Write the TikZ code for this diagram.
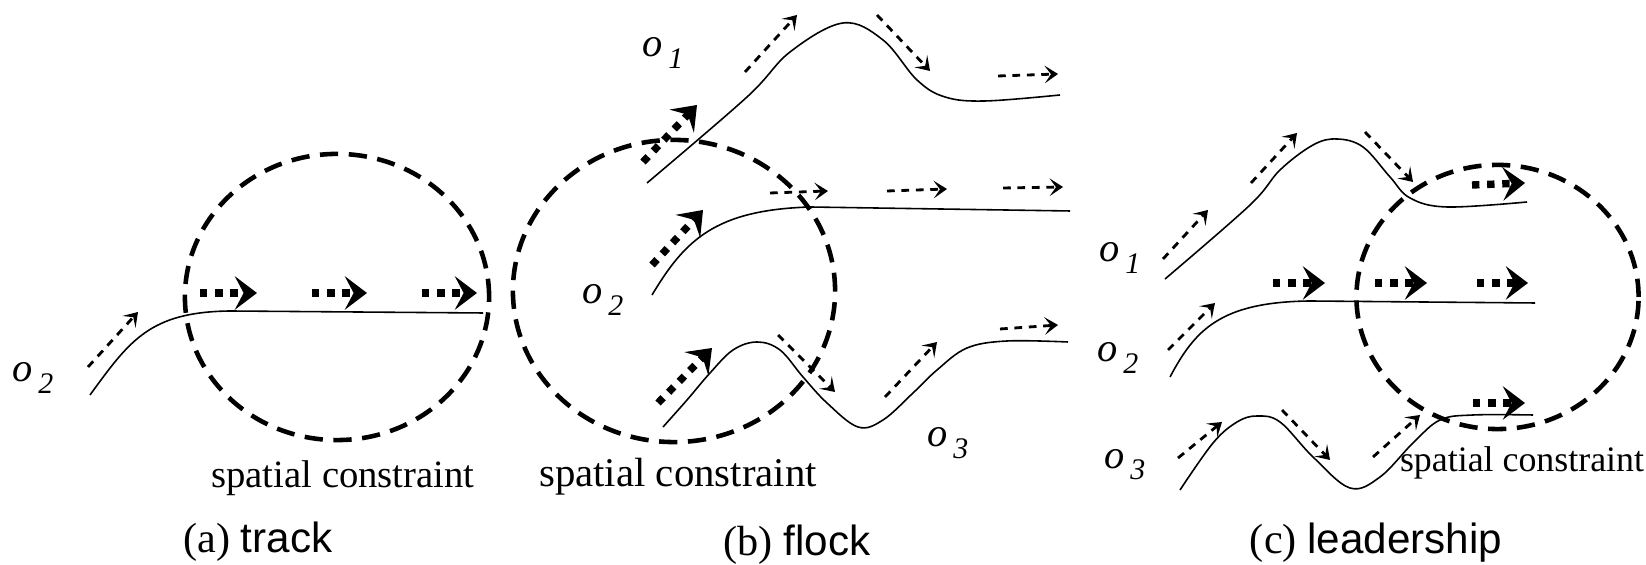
\documentclass[tikz,border=0pt]{standalone}
\usepackage{fontspec}
\setmainfont{Liberation Serif}
\setsansfont{Liberation Sans}
\usetikzlibrary{arrows.meta}

\newcommand{\obj}[1]{\textit{o}\kern1.5pt\raisebox{-3.2pt}{\fontsize{8.5}{10}\selectfont\textit{#1}}}

\begin{document}
\begin{tikzpicture}[x=0.01cm, y=-0.01cm,
    traj/.style={line width=0.45pt},
    move/.style={-{Stealth[length=3.8pt, width=5pt, inset=1.8pt]}, line width=0.8pt, dash pattern=on 2.2pt off 1.9pt},
    flow/.style={-{Stealth[length=6.3pt, width=9.5pt, inset=2.5pt]}, line width=2.1pt, dash pattern=on 2.1pt off 2.2pt},
    region/.style={line width=1.3pt, dash pattern=on 5.2pt off 3pt},
    objlab/.style={inner sep=0pt, font=\fontsize{11.5}{13}\selectfont},
    note/.style={inner sep=0pt, font=\fontsize{11}{13}\selectfont},
    capt/.style={inner sep=0pt, font=\fontsize{12}{14}\selectfont}]

      \useasboundingbox (0, 0) rectangle (1646, 565);

      \begin{scope}[shift={(0, 0)}]
        \draw[region] (337, 297) ellipse [x radius=1.52cm, y radius=1.43cm];
        \draw[traj] (90, 395) .. controls (130, 340) and (150, 312) .. (230, 311) -- (483, 313);
        \draw[move] (88, 367) -- (138, 312);
        \draw[flow] (200, 293) -- (257, 293);
        \draw[flow] (312, 293) -- (367, 293);
        \draw[flow] (422, 293) -- (477, 293);
        \node[objlab] (oa2) at (33, 378) {\obj{2}};
        \node[note] (sca) at (343, 478) {spatial constraint};
        \node[capt] (capa) at (258, 542) {(a) \textsf{track}};
      \end{scope}

      \begin{scope}[shift={(500, 0)}]
        \draw[region] (174, 291) ellipse [x radius=1.61cm, y radius=1.51cm];
        % o1: up, down, level
        \draw[traj] plot[smooth, tension=0.6] coordinates {(147, 183) (247, 97) (290, 52) (343, 23) (383, 40) (417, 80) (445, 97) (485, 101) (560, 95)};
        % o2: rises then level
        \draw[traj] (152, 295) .. controls (185, 240) and (215, 210) .. (310, 207) -- (570, 211);
        % o3: wave
        \draw[traj] plot[smooth, tension=0.6] coordinates {(163, 427) (187, 400) (210, 373) (233, 350) (257, 342) (280, 350) (303, 377) (327, 403) (358, 427) (383, 420) (413, 393) (437, 370) (467, 348) (507, 341) (568, 342)};
        \draw[move] (245, 72) -- (297, 15);
        \draw[move] (377, 15) -- (430, 71);
        \draw[move] (498, 76) -- (558, 74);
        \draw[move] (270, 193) -- (328, 191);
        \draw[move] (387, 191) -- (447, 189);
        \draw[move] (503, 188) -- (563, 187);
        \draw[move] (278, 335) -- (335, 392);
        \draw[move] (385, 397) -- (437, 342);
        \draw[move] (500, 329) -- (558, 325);
        \draw[flow] (143, 162) -- (197, 105);
        \draw[flow] (152, 265) -- (203, 210);
        \draw[flow] (158, 403) -- (212, 348);
        \node[objlab] (ob1) at (163, 53) {\obj{1}};
        \node[objlab] (ob2) at (103, 300) {\obj{2}};
        \node[objlab] (ob3) at (448, 443) {\obj{3}};
        \node[note, font=\fontsize{11.6}{13}\selectfont] (scb) at (178, 477) {spatial constraint};
        \node[capt] (capb) at (297, 545) {(b) \textsf{flock}};
      \end{scope}

      \begin{scope}[shift={(1080, 0)}]
        \draw[region] (417.5, 297) ellipse [x radius=1.41cm, y radius=1.32cm];
        \draw[traj] plot[smooth, tension=0.6] coordinates {(85, 279) (170, 205) (200, 170) (233, 145) (257, 139) (283, 147) (310, 177) (330, 198) (367, 207) (447, 202)};
        \draw[traj] (90, 377) .. controls (115, 330) and (140, 302) .. (230, 301) -- (455, 303);
        \draw[traj] plot[smooth, tension=0.6] coordinates {(100, 490) (133, 443) (157, 422) (177, 416) (200, 422) (233, 457) (270, 488) (300, 477) (333, 443) (360, 420) (393, 415) (453, 415)};
        \draw[move] (83, 259) -- (128, 210);
        \draw[move] (171, 183) -- (217, 133);
        \draw[move] (285, 132) -- (333, 182);
        \draw[move] (88, 350) -- (135, 303);
        \draw[move] (98, 458) -- (142, 422);
        \draw[move] (202, 410) -- (250, 460);
        \draw[move] (293, 457) -- (340, 415);
        \draw[flow] (392, 185) -- (445, 183);
        \draw[flow] (193, 283) -- (245, 283);
        \draw[flow] (295, 283) -- (347, 283);
        \draw[flow] (397, 283) -- (448, 283);
        \draw[flow] (393, 403) -- (445, 403);
        \node[objlab] (oc1) at (40, 258) {\obj{1}};
        \node[objlab] (oc2) at (38, 358) {\obj{2}};
        \node[objlab] (oc3) at (45, 465) {\obj{3}};
        \node[note, font=\fontsize{10.2}{12}\selectfont] (scc) at (442, 463) {spatial constraint};
        \node[capt] (capc) at (296, 543) {(c) \textsf{leadership}};
      \end{scope}
    \end{tikzpicture}
\end{document}
